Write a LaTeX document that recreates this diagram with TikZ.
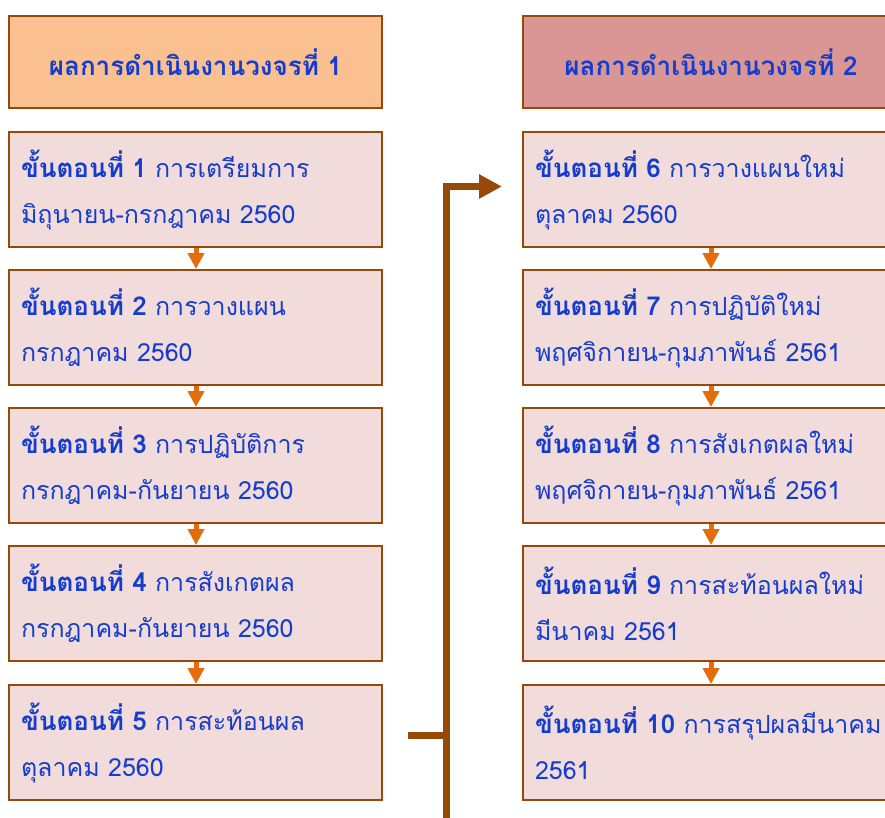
\documentclass[tikz,border=0pt]{standalone}
\usepackage{fontspec}
\setmainfont[Script=Thai]{Loma}
\usetikzlibrary{arrows.meta}

\definecolor{framebrown}{RGB}{152,72,7}
\definecolor{headone}{RGB}{250,192,144}
\definecolor{headtwo}{RGB}{217,150,148}
\definecolor{stepfill}{RGB}{242,220,219}
\definecolor{textblue}{RGB}{20,60,205}
\definecolor{steporange}{RGB}{228,108,10}

\def\leftx{8}
\def\rightx{522}
\newcommand\stepno[1]{{\fontsize{26}{46}\selectfont\bfseries #1}}

\begin{document}
\begin{tikzpicture}[x=1pt,y=-1pt]
				\tikzstyle{stepbox}=[draw=framebrown,line width=2pt,fill=stepfill,anchor=north west,
				    inner xsep=12pt,inner ysep=0pt,minimum height=115pt,align=left,
				    text=textblue,font=\fontsize{25}{46}\selectfont]
			    \tikzstyle{leftbox}=[stepbox,text width=349pt]
			    \tikzstyle{rightbox}=[stepbox,text width=380pt]
			    \tikzstyle{headbox}=[stepbox,minimum height=92pt,align=center,font=\fontsize{26}{46}\selectfont\bfseries]
			    \tikzstyle{steparrow}=[draw=steporange,line width=5pt,-{Triangle[width=16pt,length=16pt]}]
			    \tikzstyle{loopline}=[draw=framebrown,line width=7pt,line join=miter]

			    \useasboundingbox (0,0) rectangle (885,818);

			    % Cycle 1
			    \node[headbox,text width=349pt,fill=headone] (h1) at (\leftx,15) {ผลการดำเนินงานวงจรที่ 1};
			    \node[leftbox] (s1) at (\leftx,131) {\stepno{ขั้นตอนที่ 1} การเตรียมการ\\มิถุนายน-กรกฎาคม 2560};
			    \node[leftbox] (s2) at (\leftx,269) {\stepno{ขั้นตอนที่ 2} การวางแผน\\กรกฎาคม 2560};
			    \node[leftbox] (s3) at (\leftx,407) {\stepno{ขั้นตอนที่ 3} การปฏิบัติการ\\กรกฎาคม-กันยายน 2560};
			    \node[leftbox] (s4) at (\leftx,545) {\stepno{ขั้นตอนที่ 4} การสังเกตผล\\กรกฎาคม-กันยายน 2560};
			    \node[leftbox] (s5) at (\leftx,684) {\stepno{ขั้นตอนที่ 5} การสะท้อนผล\\ตุลาคม 2560};

			    % Cycle 2
			    \node[headbox,text width=352pt,fill=headtwo] (h2) at (\rightx,15) {ผลการดำเนินงานวงจรที่ 2};
			    \node[rightbox] (s6) at (\rightx,131) {\stepno{ขั้นตอนที่ 6} การวางแผนใหม่\\ตุลาคม 2560};
			    \node[rightbox] (s7) at (\rightx,269) {\stepno{ขั้นตอนที่ 7} การปฏิบัติใหม่\\พฤศจิกายน-กุมภาพันธ์ 2561};
			    \node[rightbox] (s8) at (\rightx,407) {\stepno{ขั้นตอนที่ 8} การสังเกตผลใหม่\\พฤศจิกายน-กุมภาพันธ์ 2561};
			    \node[rightbox] (s9) at (\rightx,545) {\stepno{ขั้นตอนที่ 9} การสะท้อนผลใหม่\\มีนาคม 2561};
			    \node[rightbox] (s10) at (\rightx,684) {\stepno{ขั้นตอนที่ 10} การสรุปผลมีนาคม\\2561};

			    % Step arrows
			    \coordinate (leftcol) at (196,0);
			    \coordinate (rightcol) at (711,0);
			    \draw[steparrow] (s1.south -| leftcol) -- (s2.north -| leftcol);
			    \draw[steparrow] (s2.south -| leftcol) -- (s3.north -| leftcol);
			    \draw[steparrow] (s3.south -| leftcol) -- (s4.north -| leftcol);
			    \draw[steparrow] (s4.south -| leftcol) -- (s5.north -| leftcol);
			    \draw[steparrow] (s6.south -| rightcol) -- (s7.north -| rightcol);
			    \draw[steparrow] (s7.south -| rightcol) -- (s8.north -| rightcol);
			    \draw[steparrow] (s8.south -| rightcol) -- (s9.north -| rightcol);
			    \draw[steparrow] (s9.south -| rightcol) -- (s10.north -| rightcol);

			    % From cycle 1 to cycle 2
			    \coordinate (loopbottom) at (446,825);
			    \coordinate (stubend) at (408,735);
			    \draw[loopline] (stubend) -- (stubend -| loopbottom);
			    \draw[loopline,-{Triangle[width=23pt,length=23pt]},shorten >=20pt] (loopbottom) |- ([yshift=3pt]s6.west);

			\end{tikzpicture}
\end{document}
